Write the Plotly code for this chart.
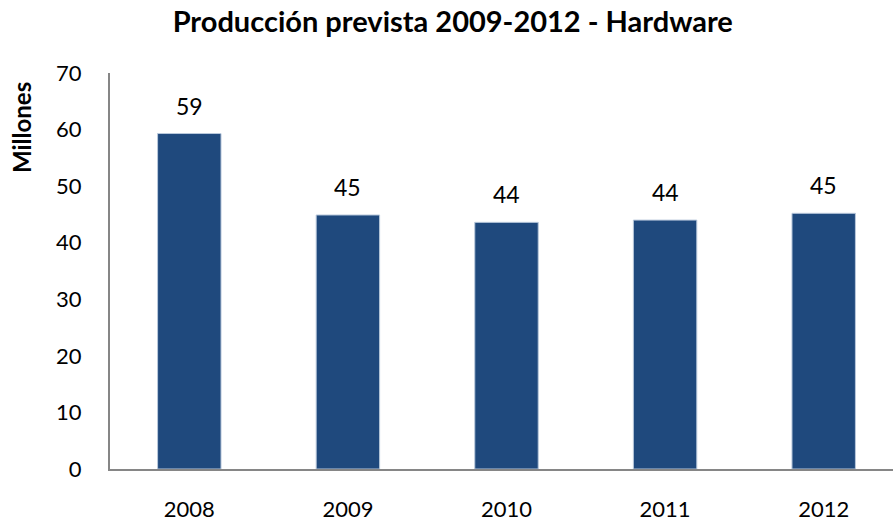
import plotly.graph_objects as go

years = ["2008", "2009", "2010", "2011", "2012"]
produccion = [59.3, 44.9, 43.6, 44.0, 45.2]
y_ticks = [0, 10, 20, 30, 40, 50, 60, 70]

FONT = "Lato"
BAR = "#1F497D"
AXIS = "#868686"

W, H = 893, 524
ML, MR, MT, MB = 110, 0, 73, 55
plot_w = W - ML - MR
plot_h = H - MT - MB

fig = go.Figure()
fig.add_trace(go.Bar(
    x=list(range(len(years))),
    y=produccion,
    width=0.40,
    marker=dict(color=BAR, line=dict(color="#B9C9DC", width=1)),
    hoverinfo="skip",
))

# value labels above each bar
for i, v in enumerate(produccion):
    fig.add_annotation(
        x=i, y=v, text=f"{v:.0f}", showarrow=False,
        yanchor="bottom", yshift=12,
        font=dict(family=FONT, size=23, color="#000000"),
    )

# rotated axis title placed near the top of the y axis
fig.add_annotation(
    x=(22 - ML) / plot_w, y=(H - MB - 128) / plot_h,
    xref="paper", yref="paper", xanchor="center", yanchor="middle",
    text="<b>Millones</b>", showarrow=False, textangle=-90,
    font=dict(family=FONT, size=24, color="#000000"),
)

fig.update_layout(
    width=W, height=H,
    margin=dict(l=ML, r=MR, t=MT, b=MB, autoexpand=False),
    paper_bgcolor="white", plot_bgcolor="white",
    showlegend=False,
    title=dict(
        text="<b>Producción prevista 2009-2012 - Hardware</b>",
        x=0.507, xanchor="center", y=0.958, yanchor="middle",
        font=dict(family=FONT, size=29, color="#000000"),
    ),
    xaxis=dict(
        range=[-0.5, 4.437],
        tickmode="array",
        tickvals=list(range(len(years))),
        ticktext=years,
        showline=True, linecolor=AXIS, linewidth=2,
        showgrid=False, zeroline=False, ticks="",
        ticklabelstandoff=20, automargin=False,
        tickfont=dict(family=FONT, size=22, color="#000000"),
    ),
    yaxis=dict(
        range=[0, 70],
        tickmode="array", tickvals=y_ticks,
        showline=True, linecolor=AXIS, linewidth=2,
        showgrid=False, zeroline=False, ticks="",
        ticklabelstandoff=22, automargin=False,
        tickfont=dict(family=FONT, size=22, color="#000000"),
    ),
)

fig.write_html("out.html")
